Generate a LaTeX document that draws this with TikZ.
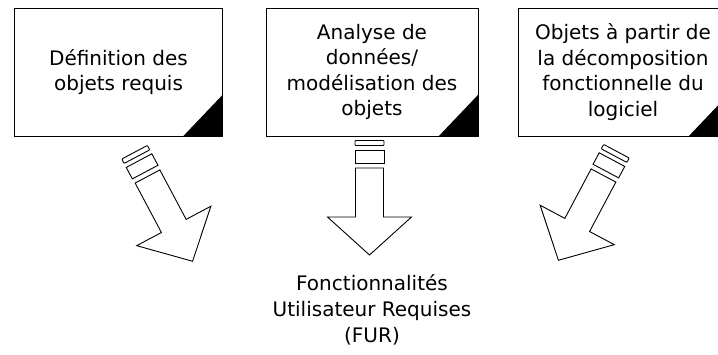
\documentclass[tikz,border=0pt]{standalone}
\usepackage{fontspec}
\setmainfont{DejaVu Sans}
\tikzset{
  srcbox/.style={draw=black,line width=0.9pt,minimum width=208pt,minimum height=128pt,inner sep=0pt,align=center,font=\fontsize{20}{25.5}\selectfont},
  corner/.style={fill=black},
  pics/fatarrow/.style 2 args={code={
    \draw[line width=0.9pt,rounded corners=0.8pt] (-14.5,22.5) rectangle (14.5,27.5);
    \draw[line width=0.9pt] (-14.5,5) rectangle (14.5,18);
    \draw[line width=0.9pt,line join=miter] (-14,0) -- (14,0) -- (14,-#1) -- (42,-#1) -- (0,-#1-#2) -- (-42,-#1) -- (-14,-#1) -- cycle;
  }}
}
\begin{document}
\begin{tikzpicture}[x=1pt,y=1pt]
\useasboundingbox (0,0) rectangle (718,354);
\clip (0,0) rectangle (718,354);
%%
\node (def) at (118.5,282) [srcbox] {Définition des\\objets requis};
\node (ana) at (372,282) [srcbox,minimum width=212pt] {Analyse de\\données/\\modélisation des\\objets};
\node (obj) at (623,282) [srcbox,minimum width=210pt] {Objets à partir de\\la décomposition\\fonctionnelle du\\logiciel};
\foreach \b in {def,ana,obj}
  \fill[corner] (\b.south east) -- ([xshift=-40pt]\b.south east) -- ([yshift=42pt]\b.south east) -- cycle;
%
\pic (arrdef) at (147.5,177.5) [rotate=28] {fatarrow={56}{40}};
\pic (arrana) at (369.5,186) {fatarrow={49}{38}};
\pic (arrobj) at (603.5,178.5) [rotate=-28] {fatarrow={56}{40}};
%
\node (fur) at (372,44) [inner sep=0pt,align=center,font=\fontsize{20}{26}\selectfont] {Fonctionnalités\\Utilisateur Requises\\(FUR)};
%
\end{tikzpicture}
\end{document}
